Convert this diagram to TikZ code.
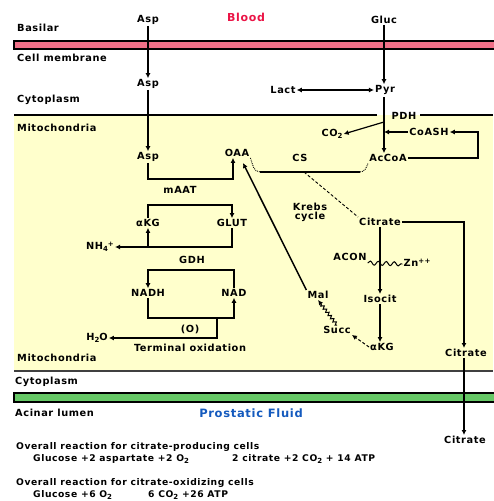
\documentclass[tikz,border=0pt]{standalone}
\usepackage{fontspec}
\setmainfont{DejaVu Sans}[LetterSpace=6]
\usetikzlibrary{arrows.meta,decorations.pathmorphing}
\definecolor{mitoY}{RGB}{255,255,204}
\definecolor{pinkM}{RGB}{240,112,136}
\definecolor{greenM}{RGB}{102,200,102}
\definecolor{bloodR}{RGB}{235,20,70}
\definecolor{fluidB}{RGB}{20,90,190}
\newcommand\sbs[1]{\raisebox{-0.4ex}{\fontsize{7}{7}\selectfont #1}}
\newcommand\sps[1]{\raisebox{0.6ex}{\fontsize{7}{7}\selectfont #1}}
\begin{document}
\begin{tikzpicture}[x=1pt,y=-1pt,
  every node/.style={inner sep=1pt, font=\fontsize{9.8}{11}\selectfont\bfseries},
  lft/.style={anchor=west},
  ln/.style={line width=1.2pt},
  arr/.style={line width=1.2pt, -{Latex[length=5pt,width=5pt]}},
  band/.style={line width=1.3pt, draw=black}
]
\useasboundingbox (0,0) rectangle (493,501);
\fill[white] (0,0) rectangle (493,501);
% mitochondria region
\fill[mitoY] (14,115) rectangle (493,371);
\draw[line width=1.3pt] (14,115) -- (377,115);
\draw[line width=1.3pt] (420,115) -- (493,115);
\draw[line width=1.6pt, black!75] (14,371) -- (493,371);
% membranes
\filldraw[band, fill=pinkM] (14,41) rectangle (496,49);
\filldraw[band, fill=greenM] (14,393) rectangle (496,402);

% region labels
\node[lft] (basilar) at (16,28) {Basilar};
\node (blood) at (246,17) {\color{bloodR}\fontsize{11}{13}\selectfont Blood};
\node[lft] (cellmem) at (16,58) {Cell membrane};
\node[lft] (cyto1) at (16,100) {Cytoplasm};
\node[lft] (mito1) at (16,128) {Mitochondria};
\node[lft] (mito2) at (16,358) {Mitochondria};
\node[lft] (cyto2) at (14,382) {Cytoplasm};
\node[lft] (acinar) at (14,413) {Acinar lumen};
\node (pf) at (251,413) {\color{fluidB}\fontsize{11.5}{13}\selectfont Prostatic Fluid};

% metabolites
\node (asp1) at (148,20) {Asp};
\node (asp2) at (148,84) {Asp};
\node (asp3) at (148,157) {Asp};
\node (gluc) at (384,20) {Gluc};
\node (pyr) at (385,90) {Pyr};
\node (lact) at (283,90) {Lact};
\node (oaa) at (237,153) {OAA};
\node (accoa) at (388,158) {AcCoA};
\node (coash) at (429,132) {CoASH};
\node (co2) at (332,134) {CO\sbs{2}};
\node (pdh) at (404,116) {PDH};
\node (cs) at (300,158) {CS};
\node[align=center, inner sep=0pt] (krebs) at (310,212) {Krebs\\[-2pt]cycle};
\node (cit1) at (380,222) {Citrate};
\node (cit2) at (466,353) {Citrate};
\node (cit3) at (465,440) {Citrate};
\node (acon) at (350,257) {ACON};
\node (zn) at (417,263) {Zn\sps{++}};
\node (isocit) at (380,299) {Isocit};
\node (akg2) at (382,347) {αKG};
\node (succ) at (337,330) {Succ};
\node (mal) at (318,295) {Mal};
\node (maat) at (180,190) {mAAT};
\node (akg1) at (148,223) {αKG};
\node (glut) at (232,223) {GLUT};
\node (nh4) at (100,247) {NH\sbs{4}\sps{+}};
\node (gdh) at (192,260) {GDH};
\node (nadh) at (148,293) {NADH};
\node (nad) at (234,293) {NAD};
\node (ox) at (190,329) {(O)};
\node (h2o) at (97,338) {H\sbs{2}O};
\node (termox) at (190,348) {Terminal oxidation};

% bottom equations
\begin{scope}[every node/.style={inner sep=0pt, anchor=west, font=\fontsize{9.2}{11}\selectfont\bfseries}]
\node (ov1) at (16,447) {Overall reaction for citrate-producing cells};
\node (eq1a) at (33,459) {Glucose +2 aspartate +2 O\sbs{2}};
\node (eq1b) at (232,459) {2 citrate +2 CO\sbs{2} + 14 ATP};
\node (ov2) at (16,483) {Overall reaction for citrate-oxidizing cells};
\node (eq2a) at (33,495) {Glucose +6 O\sbs{2}};
\node (eq2b) at (148,495) {6 CO\sbs{2} +26 ATP};
\end{scope}

% connectors: aspartate
\draw[arr] (asp1) -- (asp2);
\draw[arr] (asp2) -- (asp3);
\coordinate (maatR) at (233,179);
\draw[arr] (asp3.south) |- (maatR) -- (maatR |- oaa.south);

% glucose / pyruvate
\draw[arr] (gluc) -- (gluc |- pyr.north);
\draw[line width=1.2pt, {Latex[length=5pt,width=5pt]}-{Latex[length=5pt,width=5pt]}] (lact) -- (pyr);
\coordinate (pdhtop) at (384,97);
\draw[arr] (pdhtop) -- (pdhtop |- accoa.north);
\coordinate (pdhbr) at (384,122);
\draw[arr] (pdhbr) -- (co2.east);
\draw[arr] (coash.west) -- (pdhtop |- coash.west);
\coordinate (cR) at (478,158);
\draw[arr] (accoa.east) -- (cR) |- (coash.east);

% citrate synthase
\coordinate (csL) at (260,172);
\coordinate (csR) at (360,172);
\coordinate (csM) at (304,172);
\draw[ln] (csL) -- (csR);
\draw[line width=0.9pt, densely dotted] (oaa.south east) to[out=-70,in=180] (csL);
\draw[line width=0.9pt, densely dotted] (csR) to[out=0,in=-110] (accoa.south west);
\draw[line width=0.9pt, densely dashed] (csM) -- (cit1.north west);

% Krebs cycle
\draw[arr] (cit1) -- (cit1 |- isocit.north);
\draw[line width=1pt, decorate, decoration={snake, amplitude=2pt, segment length=8pt}] (acon.east) ++(0,6) -- ([yshift=-1pt]zn.west);
\draw[arr] (isocit) -- (isocit |- akg2.north);
\draw[arr, line width=1pt, densely dashed] (akg2.west) -- (succ.south east);
\draw[arr, line width=1pt, decorate, decoration={zigzag, amplitude=1.5pt, segment length=4pt, post length=5pt}] (succ.north) -- (mal.south);
\coordinate (oaaIn) at (243,163);
\draw[arr, line width=1.5pt] (mal.north west) -- (oaaIn);

% citrate export
\coordinate (cc) at (464,222);
\draw[arr] (cit1.east) -- (cc) -- (cc |- cit2.north);
\draw[arr] (cc |- cit2.south) -- (cc |- cit3.north);

% GLUT / GDH cycle
\coordinate (gT) at (232,205);
\draw[arr] (akg1.north) |- (gT) -- (glut.north);
\coordinate (gB) at (232,247);
\draw[arr] (glut.south) -- (gB) -| (akg1.south);
\draw[arr] (akg1.south |- gB) -- (nh4.east);

% NADH / NAD cycle
\coordinate (nT) at (148,270);
\draw[arr] (nad.north) |- (nT) -- (nadh.north);
\coordinate (nB) at (234,318);
\draw[arr] (nadh.south) |- (nB) -- (nad.south);
\coordinate (oT) at (217,318);
\coordinate (oB) at (217,338);
\draw[arr] (oT) -- (oB) -- (h2o.east);
\end{tikzpicture}
\end{document}
